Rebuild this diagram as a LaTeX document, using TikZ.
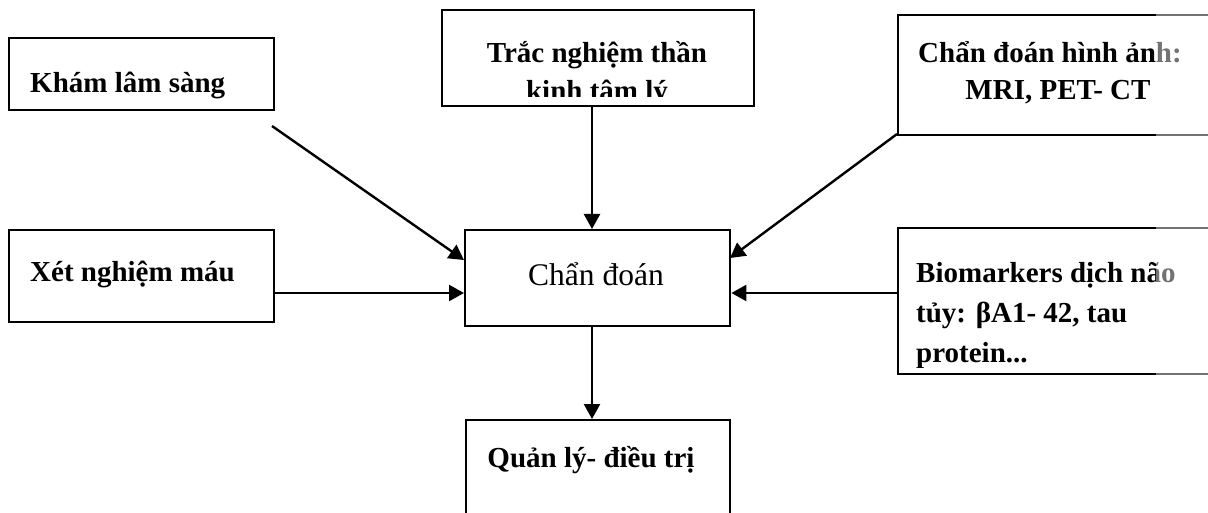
\documentclass[tikz,border=0pt]{standalone}
\usepackage{fontspec}
\setmainfont{Liberation Serif}
\usetikzlibrary{arrows.meta}
\begin{document}
\begin{tikzpicture}[x=1pt,y=-1pt,
  box/.style={draw, line width=2.4pt, inner sep=0pt, anchor=north west},
  lbl/.style={inner sep=0pt, anchor=base west, font=\fontsize{29}{37}\selectfont\bfseries},
  clbl/.style={inner sep=0pt, anchor=base, font=\fontsize{29}{37}\selectfont\bfseries},
  arr/.style={line width=2.4pt, -{Triangle[length=15pt,width=16pt]}}]
\useasboundingbox (0,0) rectangle (1208,513);
\clip (0,0) rectangle (1208,513);
% boxes
\node[box, minimum width=265pt, minimum height=72pt] (kham) at (8,37) {};
\node[box, minimum width=312pt, minimum height=96pt] (trac) at (441,9) {};
\node[box, minimum width=340pt, minimum height=120pt] (hinh) at (897,14) {};
\node[box, minimum width=265pt, minimum height=92pt] (xet) at (8,229) {};
\node[box, minimum width=265pt, minimum height=96pt] (chan) at (464,229) {};
\node[box, minimum width=340pt, minimum height=146pt] (bio) at (897,227) {};
\node[box, minimum width=264pt, minimum height=140pt] (quan) at (465,419) {};
% texts
\node[lbl] (t1) at (30,93) {Khám lâm sàng};
\node[clbl] (t2) at (597,63) {Trắc nghiệm thần};
\begin{scope}
  \clip (441,9) rectangle (753,97);
  \node[clbl] (t3) at (597,101) {kinh tâm lý};
\end{scope}
\node[clbl] (t4) at (1050,63) {Chẩn đoán hình ảnh:};
\node[clbl] (t5) at (1058,100) {MRI, PET- CT};
\node[lbl] (t6) at (30,282) {Xét nghiệm máu};
\node[inner sep=0pt, anchor=base, font=\fontsize{31.5}{38}\selectfont] (t7) at (596,285) {Chẩn đoán};
\node[lbl] (t8) at (916,283) {Biomarkers dịch não};
\node[lbl] (t9) at (916,322) {tủy: βA1- 42, tau};
\begin{scope}
  \clip (897,227) rectangle (1208,367);
  \node[lbl] (t10) at (916,362) {protein...};
\end{scope}
\node[clbl] (t11) at (591,467) {Quản lý- điều trị};
% connector ends
\coordinate (a1) at (272,126);
\coordinate (e1) at (464,260);
\coordinate (a3) at (897,134);
\coordinate (e3) at (730,258);
% connectors
\draw[arr] (a1) -- (e1);
\draw[arr] (trac.south -| 592,0) -- (chan.north -| 592,0);
\draw[arr] (a3) -- (e3);
\draw[arr] (xet.east |- 0,293) -- (chan.west |- 0,293);
\draw[arr] (bio.west |- 0,293) -- (chan.east |- 0,293);
\draw[arr] (chan.south -| 592,0) -- (quan.north -| 592,0);
% faded right margin
\fill[white, opacity=0.45] (1156,0) rectangle (1208,513);
\end{tikzpicture}
\end{document}
